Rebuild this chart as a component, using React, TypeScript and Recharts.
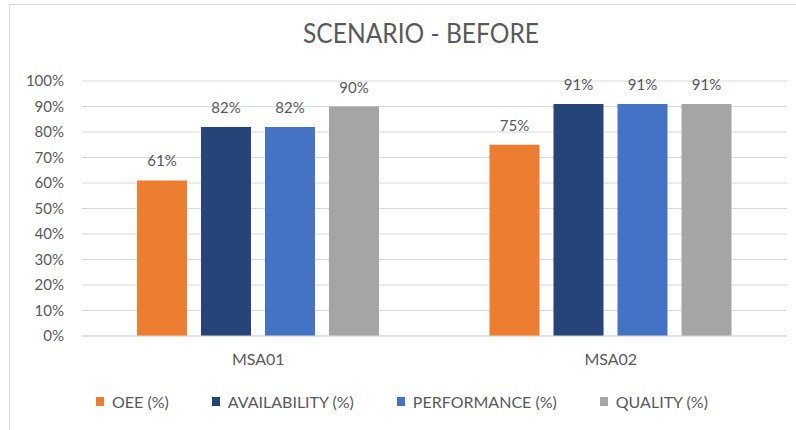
import { BarChart, Bar, XAxis, YAxis, CartesianGrid, LabelList } from 'recharts';

// categories + series
const machines = ['MSA01', 'MSA02'];
const oee = [0.61, 0.75];
const availability = [0.82, 0.91];
const performance = [0.82, 0.91];
const quality = [0.90, 0.91];
const yTicks = [0, 0.1, 0.2, 0.3, 0.4, 0.5, 0.6, 0.7, 0.8, 0.9, 1];

const seriesKeys = ['oee', 'availability', 'performance', 'quality'];
const seriesNames = ['OEE (%)', 'AVAILABILITY (%)', 'PERFORMANCE (%)', 'QUALITY (%)'];
const seriesColors = ['#ED7D31', '#264478', '#4472C4', '#A5A5A5'];

const rows = machines.map((m, i) => ({
  name: m,
  oee: oee[i],
  availability: availability[i],
  performance: performance[i],
  quality: quality[i],
}));

const FONT = 'Lato, "Open Sans", sans-serif';
const TEXT = '#595959';
const GRID = '#d9d9d9';

const pct = (v: unknown) => `${Math.round(Number(v) * 100)}%`;

export default function App() {
  return (
    <div style={{ position: 'absolute', left: 0, top: 0, width: 796, height: 430, background: '#fff', fontFamily: FONT }}>
      {/* frame: only top + left edges show in the shot */}
      <div style={{ position: 'absolute', left: 9, top: 4, width: 787, height: 426, borderTop: `1px solid ${GRID}`, borderLeft: `1px solid ${GRID}` }} />

      <svg width={796} height={60} style={{ position: 'absolute', left: 0, top: 0 }}>
        <text x={421} y={43} textAnchor="middle" fill={TEXT} fontSize={26} fontFamily={FONT}
          textLength={236} lengthAdjust="spacingAndGlyphs">
          SCENARIO - BEFORE
        </text>
      </svg>

      <div style={{ position: 'absolute', left: 0, top: 0 }}>
        <BarChart width={796} height={430} data={rows} margin={{ top: 81, right: 9, left: 0, bottom: 64 }}
          barSize={50} barGap={14}>
          <CartesianGrid vertical={false} stroke={GRID} />
          <XAxis dataKey="name" height={30} tickSize={0} tickMargin={18} axisLine={{ stroke: GRID }}
            tick={{ fill: TEXT, fontSize: 16, fontFamily: FONT }} />
          <YAxis width={82} domain={[0, 1]} ticks={yTicks} tickFormatter={pct} axisLine={false}
            tickSize={0} tickMargin={18} interval={0}
            tick={{ fill: TEXT, fontSize: 15, fontFamily: FONT }} />
          {seriesKeys.map((k, i) => (
            <Bar key={k} dataKey={k} name={seriesNames[i]} fill={seriesColors[i]} isAnimationActive={false}>
              <LabelList dataKey={k} position="top" offset={14} formatter={pct}
                style={{ fill: TEXT, fontSize: 15, fontFamily: FONT }} />
            </Bar>
          ))}
        </BarChart>
      </div>

      {/* legend */}
      <div style={{ position: 'absolute', left: 96, top: 392, display: 'flex', alignItems: 'center', color: TEXT, fontSize: 16 }}>
        {seriesNames.map((n, i) => (
          <div key={n} style={{ display: 'flex', alignItems: 'center', marginRight: 43 }}>
            <span style={{ display: 'inline-block', width: 8, height: 9, background: seriesColors[i], marginRight: 8 }} />
            <span>{n}</span>
          </div>
        ))}
      </div>
    </div>
  );
}
